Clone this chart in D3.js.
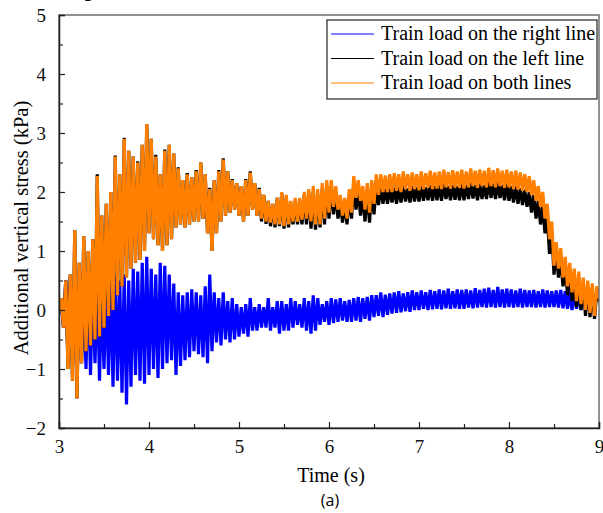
<!DOCTYPE html>
<html>
<head>
<meta charset="utf-8">
<script src="https://cdn.jsdelivr.net/npm/d3@7"></script>
<style>
  body { margin: 0; background: #fff; }
  svg { display: block; }
</style>
</head>
<body>
<div id="chart"></div>
<script>
// sampling grid of the record (s)
const tStart = 3;
const tStep = 0.025;

// Train load on the right line (kPa), one row per 0.25 s
const rightLine = [
  0, 0.1, -0.3, 0.5, -0.8, 0.55, -0.9, 0.3, -0.95, 0.4,
  -0.9, 0.3, -1.0, 0.5, -1.1, 0.4, -0.9, 0.5, -1.2, 0.3,
  -1.0, 0.45, -1.1, 0.55, -1.3, 0.6, -1.2, 0.5, -1.4, 0.6,
  -1.6, 0.5, -1.3, 0.7, -1.1, 0.65, -1.2, 0.8, -1.25, 0.9,
  -1.1, 0.7, -1.0, 0.6, -1.15, 0.8, -1.0, 0.75, -0.9, 0.6,
  -0.85, 0.45, -1.1, 0.3, -0.95, 0.25, -0.85, 0.3, -0.8, 0.35,
  -0.7, 0.3, -0.75, 0.25, -0.8, 0.4, -0.9, 0.6, -0.7, 0.3,
  -0.55, 0.2, -0.6, 0.3, -0.5, 0.15, -0.55, 0.2, -0.5, 0.1,
  -0.45, 0.05, -0.4, 0.1, -0.45, 0.2, -0.35, 0.05, -0.35, 0.1,
  -0.3, 0.05, -0.3, 0.2, -0.35, 0.05, -0.3, 0.15, -0.4, 0.15,
  -0.35, 0.1, -0.35, 0.2, -0.3, 0.15, -0.25, 0.1, -0.3, 0.2,
  -0.35, 0.15, -0.4, 0.25, -0.35, 0.2, -0.25, 0.1, -0.2, 0.15,
  -0.25, 0.2, -0.22, 0.18, -0.2, 0.2, -0.18, 0.15, -0.2, 0.17,
  -0.2, 0.2, -0.18, 0.22, -0.2, 0.2, -0.15, 0.22, -0.18, 0.25,
  -0.12, 0.25, -0.1, 0.3, -0.12, 0.26, -0.08, 0.28, -0.06, 0.3,
  -0.05, 0.32, -0.04, 0.28, -0.02, 0.3, -0.03, 0.33, 0.0, 0.3,
  0.0, 0.33, 0.02, 0.3, 0.0, 0.34, 0.01, 0.32, 0.02, 0.35,
  0.01, 0.33, 0.03, 0.36, 0.02, 0.32, 0.03, 0.35, 0.02, 0.34,
  0.02, 0.35, 0.04, 0.33, 0.03, 0.37, 0.04, 0.34, 0.05, 0.36,
  0.04, 0.38, 0.05, 0.34, 0.04, 0.39, 0.05, 0.35, 0.04, 0.36,
  0.05, 0.35, 0.04, 0.33, 0.05, 0.36, 0.04, 0.34, 0.05, 0.33,
  0.05, 0.34, 0.04, 0.32, 0.05, 0.35, 0.04, 0.33, 0.05, 0.32,
  0.05, 0.33, 0.04, 0.34, 0.03, 0.32, 0.02, 0.3, 0.0, 0.31,
  0.02, 0.3, 0.0, 0.32, 0.03, 0.3, 0.05, 0.28, 0.04, 0.3,
  0.15
];

// Train load on the left line (kPa)
const leftLine = [
  0, 0.2, -0.3, 0.5, -1.0, 0.6, -1.2, 1.35, -1.5, 0.8,
  -0.9, 1.25, -0.7, 1.0, -0.6, 1.2, -0.5, 2.3, -0.45, 1.6,
  -0.3, 1.8, -0.1, 2.0, 0.0, 2.62, 0.25, 2.3, 0.4, 2.92,
  0.55, 2.7, 0.7, 2.6, 0.8, 2.52, 0.85, 2.8, 1.0, 3.15,
  1.3, 2.9, 1.2, 2.63, 1.1, 2.3, 1.0, 2.72, 1.1, 2.8,
  1.2, 2.65, 1.4, 2.42, 1.45, 2.2, 1.4, 2.32, 1.45, 2.25,
  1.5, 2.37, 1.5, 2.5, 1.55, 2.3, 1.3, 2.07, 1.0, 2.2,
  1.3, 2.37, 1.5, 2.57, 1.6, 2.35, 1.65, 2.22, 1.7, 2.15,
  1.6, 2.1, 1.5, 2.22, 1.6, 2.35, 1.7, 2.15, 1.6, 2.07,
  1.5, 1.95, 1.46, 1.85, 1.42, 1.8, 1.4, 1.9, 1.42, 1.98,
  1.38, 1.9, 1.4, 1.8, 1.45, 1.85, 1.45, 1.85, 1.45, 1.95,
  1.45, 1.98, 1.38, 2.0, 1.36, 1.95, 1.4, 2.05, 1.45, 2.1,
  1.55, 2.1, 1.62, 2.0, 1.55, 1.85, 1.48, 1.8, 1.45, 1.95,
  1.55, 2.15, 1.7, 2.05, 1.6, 1.95, 1.5, 2.0, 1.48, 2.05,
  1.62, 2.1, 1.78, 2.08, 1.8, 2.05, 1.8, 2.06, 1.82, 2.08,
  1.8, 2.08, 1.82, 2.1, 1.84, 2.06, 1.82, 2.1, 1.84, 2.08,
  1.84, 2.1, 1.85, 2.08, 1.86, 2.12, 1.85, 2.1, 1.86, 2.12,
  1.85, 2.14, 1.88, 2.1, 1.86, 2.12, 1.87, 2.1, 1.86, 2.14,
  1.86, 2.12, 1.88, 2.16, 1.89, 2.12, 1.86, 2.14, 1.88, 2.12,
  1.88, 2.18, 1.9, 2.14, 1.88, 2.16, 1.9, 2.12, 1.86, 2.14,
  1.85, 2.1, 1.82, 2.1, 1.8, 2.06, 1.78, 2.04, 1.75, 2.0,
  1.65, 1.95, 1.55, 1.85, 1.45, 1.75, 1.3, 1.6, 0.95, 1.35,
  0.6, 1.0, 0.55, 0.9, 0.4, 0.75, 0.25, 0.65, 0.15, 0.55,
  0.05, 0.55, 0.0, 0.45, -0.1, 0.4, -0.12, 0.35, -0.15, 0.3,
  0.15
];

// Train load on both lines (kPa)
const bothLines = [
  0, 0.2, -0.3, 0.5, -1.0, 0.6, -1.2, 1.35, -1.5, 0.8,
  -0.9, 1.25, -0.7, 1.0, -0.6, 1.2, -0.5, 2.27, -0.45, 1.6,
  -0.3, 1.8, -0.1, 2.0, 0.0, 2.6, 0.25, 2.3, 0.4, 2.9,
  0.55, 2.7, 0.7, 2.6, 0.8, 2.5, 0.85, 2.8, 1.0, 3.15,
  1.3, 2.9, 1.2, 2.6, 1.1, 2.3, 1.0, 2.7, 1.1, 2.8,
  1.2, 2.65, 1.4, 2.4, 1.45, 2.2, 1.4, 2.3, 1.45, 2.25,
  1.5, 2.35, 1.5, 2.5, 1.55, 2.3, 1.3, 2.05, 1.0, 2.2,
  1.3, 2.35, 1.5, 2.55, 1.6, 2.35, 1.65, 2.2, 1.7, 2.15,
  1.6, 2.1, 1.5, 2.2, 1.6, 2.33, 1.7, 2.15, 1.6, 2.05,
  1.55, 1.95, 1.5, 1.85, 1.48, 1.8, 1.45, 1.9, 1.45, 2.0,
  1.42, 1.95, 1.45, 1.85, 1.5, 1.9, 1.5, 1.9, 1.53, 2.0,
  1.55, 2.05, 1.5, 2.1, 1.45, 2.05, 1.45, 2.15, 1.55, 2.2,
  1.65, 2.2, 1.75, 2.1, 1.7, 1.95, 1.6, 1.9, 1.55, 2.05,
  1.65, 2.27, 1.9, 2.2, 1.85, 2.1, 1.7, 2.15, 1.65, 2.2,
  1.8, 2.3, 1.95, 2.3, 2.0, 2.28, 2.0, 2.3, 2.0, 2.32,
  2.02, 2.3, 2.0, 2.35, 2.05, 2.3, 2.02, 2.33, 2.05, 2.3,
  2.03, 2.35, 2.05, 2.32, 2.07, 2.36, 2.05, 2.33, 2.06, 2.35,
  2.05, 2.38, 2.08, 2.34, 2.06, 2.37, 2.08, 2.35, 2.07, 2.38,
  2.06, 2.35, 2.08, 2.4, 2.1, 2.36, 2.07, 2.38, 2.1, 2.36,
  2.08, 2.41, 2.1, 2.37, 2.08, 2.4, 2.1, 2.36, 2.07, 2.38,
  2.08, 2.35, 2.05, 2.36, 2.04, 2.33, 2.02, 2.3, 2.0, 2.27,
  1.95, 2.2, 1.85, 2.1, 1.75, 2.0, 1.55, 1.8, 1.2, 1.5,
  0.75, 1.15, 0.7, 1.05, 0.55, 0.9, 0.4, 0.8, 0.3, 0.7,
  0.15, 0.65, 0.1, 0.55, 0.0, 0.5, -0.05, 0.45, -0.1, 0.4,
  0.2
];

const xTicks = [3, 4, 5, 6, 7, 8, 9];
const yTicks = [-2, -1, 0, 1, 2, 3, 4, 5];

const seriesList = [
  { name: "Train load on the right line", values: rightLine, color: "#0000ff" },
  { name: "Train load on the left line", values: leftLine, color: "#000000" },
  { name: "Train load on both lines", values: bothLines, color: "#ff8000" }
];

// Set up SVG dimensions and margins
const W = 603, H = 513;
const margin = { top: 15, right: 4, bottom: 85, left: 59 };
const width = W - margin.left - margin.right;
const height = H - margin.top - margin.bottom;
const serif = "Liberation Serif";

const root = d3.select("#chart").append("svg")
  .attr("width", W)
  .attr("height", H);

// caption glyph cut off by the top edge, as in the source figure
root.append("text")
  .attr("x", 84).attr("y", -3)
  .attr("font-family", "Open Sans")
  .attr("font-size", 16)
  .text("g");

const svg = root.append("g")
  .attr("transform", "translate(" + margin.left + "," + margin.top + ")");

const x = d3.scaleLinear().domain([3, 9]).range([0, width]);
const y = d3.scaleLinear().domain([-2, 5]).range([height, 0]);

svg.append("clipPath").attr("id", "clip")
  .append("rect").attr("width", width).attr("height", height);

const line = d3.line()
  .x((d, i) => x(tStart + i * tStep))
  .y(d => y(d));

// thick stroke so the dense oscillation reads as a solid band
svg.append("g").attr("clip-path", "url(#clip)")
  .selectAll("path")
  .data(seriesList)
  .enter()
  .append("path")
  .attr("fill", "none")
  .attr("stroke", d => d.color)
  .attr("stroke-width", 3.2)
  .attr("stroke-linejoin", "bevel")
  .attr("d", d => line(d.values));

// frame (top/right in grey)
svg.append("rect")
  .attr("width", width).attr("height", height)
  .attr("fill", "none")
  .attr("stroke", "#6e6e6e")
  .attr("stroke-width", 1.5);

// X axis, ticks inward, plus minor ticks
svg.append("g")
  .attr("transform", "translate(0," + height + ")")
  .call(d3.axisBottom(x).tickValues(xTicks).tickSize(-6).tickPadding(12).tickFormat(d3.format("d")));
svg.append("g")
  .attr("transform", "translate(0," + height + ")")
  .call(d3.axisBottom(x).tickValues([3.5, 4.5, 5.5, 6.5, 7.5, 8.5]).tickSize(-4).tickFormat(""))
  .call(g => g.select(".domain").remove());

// Y axis
svg.append("g")
  .call(d3.axisLeft(y).tickValues(yTicks).tickSize(-6).tickPadding(13).tickFormat(d3.format("d")));
svg.append("g")
  .call(d3.axisLeft(y).tickValues([-1.5, -0.5, 0.5, 1.5, 2.5, 3.5, 4.5]).tickSize(-4).tickFormat(""))
  .call(g => g.select(".domain").remove());

svg.selectAll(".tick line").attr("stroke", "#222").attr("stroke-width", 1.2);
svg.selectAll(".domain").attr("stroke", "#222").attr("stroke-width", 1.5);
svg.selectAll(".tick text")
  .attr("font-family", serif)
  .attr("font-size", 19)
  .attr("fill", "#111");

// Axis titles
svg.append("text")
  .attr("x", width / 2 + 2)
  .attr("y", height + 54)
  .attr("text-anchor", "middle")
  .attr("font-family", serif)
  .attr("font-size", 20)
  .text("Time (s)");

root.append("text")
  .attr("x", 330)
  .attr("y", 506)
  .attr("text-anchor", "middle")
  .attr("font-family", "Open Sans")
  .attr("font-size", 16)
  .text("(a)");

root.append("text")
  .attr("transform", "translate(28," + 228 + ") rotate(-90)")
  .attr("text-anchor", "middle")
  .attr("font-family", serif)
  .attr("font-size", 20.5)
  .text("Additional vertical stress (kPa)");

// Legend
const lx = 327 - margin.left, ly = 20 - margin.top;
const legend = svg.append("g").attr("transform", "translate(" + lx + "," + ly + ")");
legend.append("rect")
  .attr("width", 270).attr("height", 79)
  .attr("fill", "#fff")
  .attr("stroke", "#222")
  .attr("stroke-width", 1.2);
const rows = legend.selectAll("g.row")
  .data(seriesList)
  .enter()
  .append("g")
  .attr("class", "row")
  .attr("transform", (d, i) => "translate(0," + (14 + i * 24.5) + ")");
rows.append("line")
  .attr("x1", 4).attr("x2", 47)
  .attr("stroke", d => d.color)
  .attr("stroke-width", 1.2);
rows.append("text")
  .attr("x", 54).attr("y", 6)
  .attr("font-family", serif)
  .attr("font-size", 20)
  .text(d => d.name);
</script>
</body>
</html>
